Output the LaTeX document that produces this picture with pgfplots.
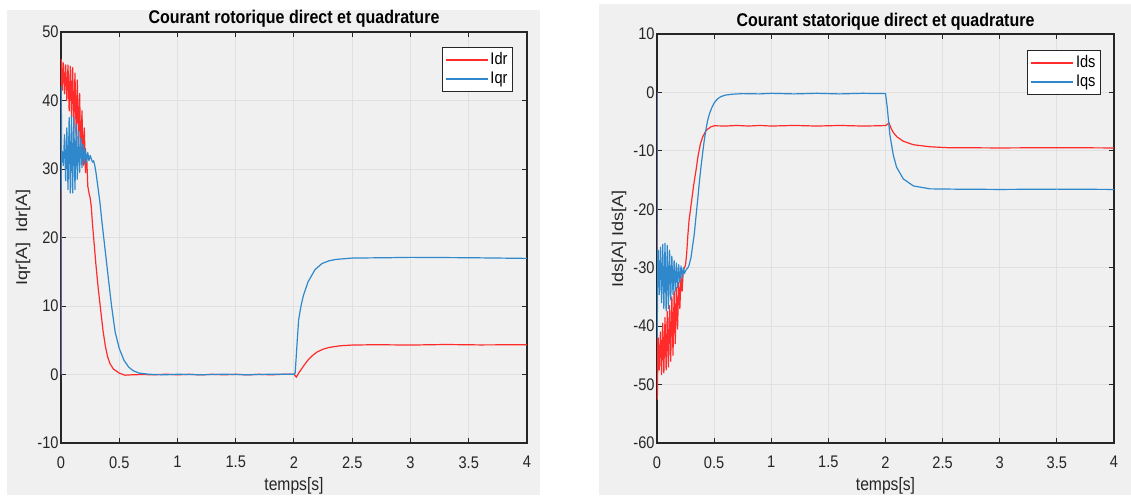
\documentclass[border=0pt]{standalone}
\usepackage{pgfplots}
\pgfplotsset{compat=1.18}
\usepackage{fontspec}
\setmainfont{Liberation Sans}
\definecolor{figgrey}{HTML}{F0F0F0}
\definecolor{axgrey}{HTML}{262626}
\definecolor{gridgrey}{HTML}{E0E0E0}
\definecolor{mred}{HTML}{FF2A2A}
\definecolor{mblue}{HTML}{2F88CC}
\newcommand{\sq}[1]{\scalebox{0.87}[1]{#1}}
\newcommand{\sqv}[1]{\scalebox{1}[0.87]{#1}}
\pgfplotsset{
 every axis title shift=0pt,
 mat/.style={
  scale only axis,
  xmin=0,xmax=4,
  xtick={0,0.5,1,1.5,2,2.5,3,3.5,4},
  grid=major,
  major grid style={gridgrey, line width=0.5pt},
  axis line style={axgrey, line width=0.6pt},
  tick style={axgrey, line width=0.5pt},
  tick align=inside,
  major tick length=2.5pt,
  xtick pos=both, ytick pos=both,
  /pgf/number format/assume math mode=true,
  ticklabel style={font=\fontsize{8.4}{9}\selectfont, text=axgrey},
  xticklabel={\sq{\pgfmathprintnumber{\tick}}},
  yticklabel={\sq{\pgfmathprintnumber{\tick}}},
  xticklabel style={inner sep=0pt, anchor=north, yshift=-6.5pt},
  yticklabel style={inner sep=0pt, anchor=east, xshift=-1pt},
  title style={font=\bfseries\fontsize{9.2}{10}\selectfont, anchor=center},
  label style={font=\fontsize{9}{10}\selectfont, text=axgrey},
  xlabel style={anchor=center},
  ylabel style={anchor=center},
  legend style={draw=axgrey, fill=white, line width=0.5pt, font=\fontsize{8.4}{9}\selectfont, inner xsep=1.5pt, inner ysep=1.5pt, anchor=north east, cells={anchor=west}, nodes={inner sep=1pt}},
  legend image code/.code={\draw[#1, line width=0.6pt] (0pt,0pt) -- (21pt,0pt);},
  every axis plot/.append style={line width=0.6pt, line join=round},
 }
}
\begin{document}
\begin{tikzpicture}
\useasboundingbox (0pt,0pt) rectangle (565.5pt,247.5pt);
\fill[white] (0pt,0pt) rectangle (565.5pt,247.5pt);
\fill[figgrey] (3.5pt,0pt) rectangle (270pt,242.5pt);
\fill[figgrey] (299.5pt,0pt) rectangle (565.5pt,245.5pt);

\begin{axis}[mat,
  at={(30.5pt,26pt)}, anchor=south west,
  width=233pt, height=205.5pt,
  ymin=-10, ymax=50, ytick={-10,0,10,20,30,40,50},
  title={\sq{Courant rotorique direct et quadrature}},
  title style={at={(axis description cs:0.5,1.0316)}},
  xlabel={\sq{temps[s]}},
  xlabel style={at={(axis description cs:0.5,-0.1045)}},
  ylabel={\sqv{Iqr[A]\ \ Idr[A]}},
  ylabel style={at={(axis description cs:-0.0815,0.5)}},
  legend style={at={(0.970,0.9635)}},
]
\addplot[mred] coordinates {
(0,0) (0.003,46) (0.01,41.5) (0.02,45.5) (0.03,41) (0.04,45.2) (0.05,40) (0.06,45.2)
(0.07,38.5) (0.08,45) (0.09,37.5) (0.10,44.8) (0.11,36) (0.12,44) (0.13,35) (0.14,43)
(0.15,33.5) (0.16,41) (0.17,32) (0.18,38.5) (0.19,30.5) (0.20,36) (0.21,29.5) (0.22,32)
(0.23,27.5) (0.24,26.5) (0.25,25.8) (0.26,24.5) (0.27,22) (0.28,20) (0.30,16) (0.32,12.5)
(0.34,9.5) (0.36,6.5) (0.38,4.2) (0.40,2.6) (0.42,1.6) (0.45,0.8) (0.50,0.2) (0.55,-0.1)
(0.60,-0.05) (0.70,0) (0.8,-0.05) (0.9,0.05) (1.0,-0.05) (1.1,0.03) (1.2,-0.05) (1.3,0.03)
(1.4,-0.05) (1.5,0.03) (1.6,-0.05) (1.7,0.03) (1.8,-0.05) (1.9,0.03) (2.0,0.05)
(2.02,-0.4) (2.04,0.2) (2.08,1.2) (2.12,2.1) (2.16,2.8) (2.20,3.3) (2.25,3.7) (2.30,3.95)
(2.40,4.2) (2.50,4.3) (2.7,4.35) (3.0,4.3) (3.3,4.38) (3.6,4.32) (4.0,4.35)
};
\addlegendentry{\sq{Idr}}
\addplot[mblue] coordinates {
(0,0) (0.002,42) (0.006,31) (0.01,32.6) (0.02,30.5) (0.03,35) (0.04,28.3) (0.05,36)
(0.06,27) (0.07,37.5) (0.08,26.5) (0.09,37.8) (0.10,26.5) (0.11,37.5) (0.12,27) (0.13,36.5)
(0.14,28.5) (0.15,35.5) (0.16,29.5) (0.17,34.5) (0.18,30.2) (0.19,33.6) (0.20,30.7)
(0.21,33) (0.22,31) (0.23,32.4) (0.24,31.2) (0.25,32) (0.26,31.5) (0.27,31) (0.28,31.2)
(0.29,30.5) (0.30,29.5) (0.32,27) (0.335,25) (0.35,22.5) (0.37,19.5) (0.40,15) (0.434,10)
(0.465,6.2) (0.50,3.8) (0.54,2.1) (0.58,1.1) (0.62,0.55) (0.67,0.2) (0.75,0.05) (0.8,0)
(0.9,-0.04) (1.0,0.04) (1.2,-0.04) (1.4,0.04) (1.6,-0.04) (1.8,0.04) (2.0,0.05)
(2.01,0.2) (2.03,5.5) (2.04,8) (2.06,10) (2.08,11.5) (2.12,13.5) (2.18,15.3) (2.24,16.2)
(2.30,16.6) (2.36,16.8) (2.5,17) (2.8,17.05) (3.0,17.1) (3.5,17.05) (4.0,16.95)
};
\addlegendentry{\sq{Iqr}}
\end{axis}

\begin{axis}[mat,
  at={(328.5pt,26pt)}, anchor=south west,
  width=228.5pt, height=204.5pt,
  ymin=-60, ymax=10, ytick={-60,-50,-40,-30,-20,-10,0,10},
  title={\sq{Courant statorique direct et quadrature}},
  title style={at={(axis description cs:0.5,1.030)}},
  xlabel={\sq{temps[s]}},
  xlabel style={at={(axis description cs:0.5,-0.105)}},
  ylabel={\sqv{Ids[A] Ids[A]}},
  ylabel style={at={(axis description cs:-0.0832,0.5)}},
  legend style={at={(0.9716,0.961)}},
]
\addplot[mred] coordinates {
(0,0) (0.003,-52.5) (0.008,-44) (0.01,-42) (0.02,-47.5) (0.03,-41) (0.04,-48.3) (0.05,-39.5)
(0.06,-48) (0.07,-38.5) (0.08,-47.5) (0.09,-37.5) (0.10,-47) (0.11,-36.5) (0.12,-46)
(0.13,-35) (0.14,-45) (0.15,-34) (0.16,-43) (0.17,-33.4) (0.18,-40.5) (0.19,-32.5)
(0.20,-37) (0.21,-31.5) (0.22,-34) (0.23,-30.5) (0.24,-30) (0.25,-29.5) (0.26,-27.5)
(0.27,-24.5) (0.28,-22) (0.30,-19) (0.32,-16) (0.34,-13.5) (0.36,-10.8) (0.38,-8.8)
(0.40,-7.6) (0.43,-6.5) (0.47,-5.9) (0.50,-5.7) (0.6,-5.75) (0.7,-5.65) (0.8,-5.75)
(0.9,-5.65) (1.0,-5.75) (1.2,-5.65) (1.4,-5.75) (1.6,-5.65) (1.8,-5.75) (1.95,-5.7)
(2.0,-5.65) (2.01,-5.55) (2.03,-5.2) (2.05,-6.2) (2.07,-6.9) (2.10,-7.6) (2.156,-8.35)
(2.244,-8.95) (2.39,-9.3) (2.54,-9.45) (3.0,-9.5) (3.5,-9.45) (4.0,-9.5)
};
\addlegendentry{\sq{Ids}}
\addplot[mblue] coordinates {
(0,0) (0.002,-42) (0.006,-30) (0.01,-27) (0.02,-34.6) (0.03,-26.5) (0.04,-36) (0.05,-26)
(0.06,-37) (0.07,-25.8) (0.08,-37.4) (0.09,-26.2) (0.10,-37) (0.11,-27) (0.12,-35.5)
(0.13,-28) (0.14,-34.6) (0.15,-28.8) (0.16,-34) (0.17,-29.2) (0.18,-33.4) (0.19,-29.5)
(0.20,-32.5) (0.21,-29.7) (0.22,-31.7) (0.23,-30) (0.24,-31) (0.25,-30.5) (0.27,-30)
(0.28,-29.6) (0.297,-28.3) (0.31,-26.5) (0.326,-24.3) (0.34,-21.5) (0.355,-18.6)
(0.37,-15.5) (0.384,-12.9) (0.40,-10.3) (0.413,-8.3) (0.43,-6.2) (0.442,-4.9) (0.46,-3.6)
(0.48,-2.6) (0.50,-1.8) (0.53,-1.1) (0.56,-0.7) (0.60,-0.45) (0.66,-0.3) (0.75,-0.2)
(0.9,-0.25) (1.0,-0.15) (1.2,-0.25) (1.4,-0.15) (1.6,-0.25) (1.8,-0.15) (2.0,-0.2)
(2.015,-2.5) (2.038,-7.2) (2.068,-10.7) (2.097,-12.8) (2.156,-14.8) (2.244,-16.0)
(2.39,-16.5) (2.6,-16.55) (3.0,-16.6) (3.5,-16.55) (4.0,-16.6)
};
\addlegendentry{\sq{Iqs}}
\end{axis}
\end{tikzpicture}
\end{document}
